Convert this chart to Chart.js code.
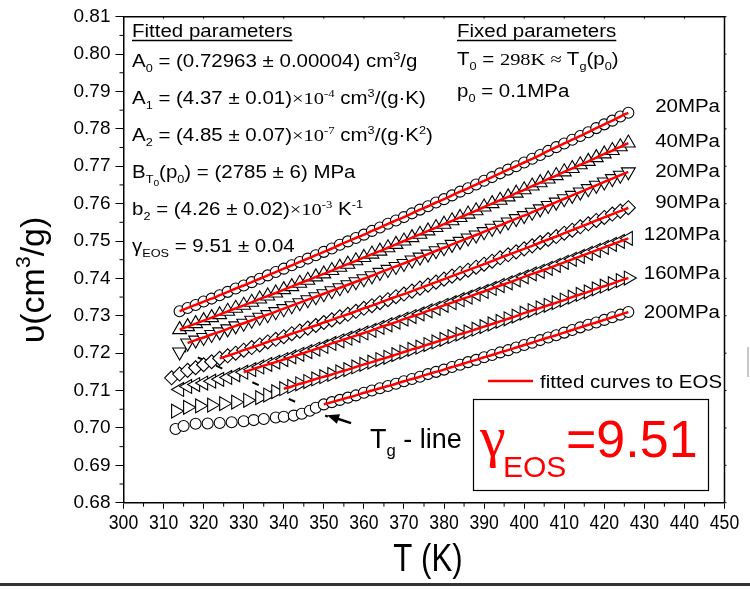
<!DOCTYPE html>
<html>
<head>
<meta charset="utf-8">
<script src="https://cdn.jsdelivr.net/npm/chart.js@4.4.1/dist/chart.umd.min.js"></script>
<style>
  html, body { margin: 0; padding: 0; background: #fff; }
  canvas { display: block; }
</style>
</head>
<body>
<canvas id="eosChart" width="750" height="589"></canvas>
<script>
// temperatures (K) for each isobar
const tempsFull = [314,316,318,320,322,324,326,328,330,332,334,336,338,340,342,344,346,348,350,352,354,356,358,360,362,364,366,368,370,372,374,376,378,380,382,384,386,388,390,392,394,396,398,400,402,404,406,408,410,412,414,416,418,420,422,424,426];
const temps90 = [312,314,316,318,320,322,324,326,328,330,332,334,336,338,340,342,344,346,348,350,352,354,356,358,360,362,364,366,368,370,372,374,376,378,380,382,384,386,388,390,392,394,396,398,400,402,404,406,408,410,412,414,416,418,420,422,424,426];
const temps160 = [313,316,319,322,325,328,331,334,336,338,340,342,344,346,348,350,352,354,356,358,360,362,364,366,368,370,372,374,376,378,380,382,384,386,388,390,392,394,396,398,400,402,404,406,408,410,412,414,416,418,420,422,424,426];
const temps200 = [313,315,318,321,324,327,330,332.5,335,338,340,342.5,344.5,346.5,348,350,352,354,356,358,360,362,364,366,368,370,372,374,376,378,380,382,384,386,388,390,392,394,396,398,400,402,404,406,408,410,412,414,416,418,420,422,424,426];

// specific volume (cm3/g)
const vol20a = [0.7312,0.7321,0.7329,0.7338,0.7346,0.7355,0.7364,0.7373,0.7381,0.7390,0.7399,0.7408,0.7417,0.7426,0.7435,0.7444,0.7453,0.7462,0.7471,0.7480,0.7490,0.7499,0.7508,0.7517,0.7527,0.7536,0.7546,0.7555,0.7564,0.7574,0.7584,0.7593,0.7603,0.7612,0.7622,0.7632,0.7641,0.7651,0.7661,0.7671,0.7681,0.7691,0.7700,0.7710,0.7720,0.7730,0.7741,0.7751,0.7761,0.7771,0.7781,0.7791,0.7802,0.7812,0.7822,0.7833,0.7843];
const vol40 = [0.7263,0.7271,0.7279,0.7287,0.7295,0.7303,0.7312,0.7320,0.7328,0.7336,0.7345,0.7353,0.7361,0.7370,0.7378,0.7387,0.7395,0.7404,0.7412,0.7421,0.7430,0.7438,0.7447,0.7456,0.7465,0.7473,0.7482,0.7491,0.7500,0.7509,0.7518,0.7527,0.7536,0.7545,0.7554,0.7563,0.7572,0.7581,0.7591,0.7600,0.7609,0.7618,0.7628,0.7637,0.7647,0.7656,0.7666,0.7675,0.7685,0.7694,0.7704,0.7713,0.7723,0.7733,0.7742,0.7752,0.7762];
const vol20b = [0.7203,0.7227,0.7235,0.7242,0.7250,0.7257,0.7265,0.7273,0.7280,0.7288,0.7296,0.7303,0.7311,0.7319,0.7327,0.7335,0.7343,0.7351,0.7359,0.7367,0.7375,0.7383,0.7391,0.7399,0.7407,0.7416,0.7424,0.7432,0.7440,0.7449,0.7457,0.7465,0.7474,0.7482,0.7491,0.7499,0.7508,0.7516,0.7525,0.7534,0.7542,0.7551,0.7560,0.7568,0.7577,0.7586,0.7595,0.7604,0.7613,0.7622,0.7631,0.7640,0.7649,0.7658,0.7667,0.7676,0.7685];
const vol90 = [0.7134,0.7144,0.7154,0.7161,0.7169,0.7177,0.7186,0.7193,0.7200,0.7208,0.7215,0.7222,0.7230,0.7237,0.7244,0.7252,0.7259,0.7267,0.7274,0.7282,0.7289,0.7297,0.7304,0.7312,0.7320,0.7327,0.7335,0.7343,0.7351,0.7358,0.7366,0.7374,0.7382,0.7390,0.7398,0.7406,0.7414,0.7422,0.7430,0.7438,0.7446,0.7455,0.7463,0.7471,0.7479,0.7487,0.7496,0.7504,0.7512,0.7521,0.7529,0.7538,0.7546,0.7555,0.7563,0.7572,0.7580,0.7589];
const vol120 = [0.7103,0.7111,0.7116,0.7120,0.7125,0.7130,0.7135,0.7142,0.7149,0.7156,0.7163,0.7170,0.7176,0.7183,0.7190,0.7197,0.7204,0.7211,0.7218,0.7226,0.7233,0.7240,0.7247,0.7254,0.7261,0.7269,0.7276,0.7283,0.7291,0.7298,0.7305,0.7313,0.7320,0.7328,0.7335,0.7343,0.7350,0.7358,0.7365,0.7373,0.7381,0.7388,0.7396,0.7404,0.7412,0.7419,0.7427,0.7435,0.7443,0.7451,0.7459,0.7467,0.7475,0.7483,0.7491,0.7499,0.7507];
const vol160 = [0.7045,0.7055,0.7059,0.7061,0.7065,0.7069,0.7074,0.7081,0.7088,0.7097,0.7105,0.7111,0.7118,0.7124,0.7131,0.7137,0.7143,0.7150,0.7156,0.7163,0.7170,0.7176,0.7183,0.7189,0.7196,0.7203,0.7210,0.7216,0.7223,0.7230,0.7237,0.7244,0.7251,0.7257,0.7264,0.7271,0.7278,0.7285,0.7292,0.7299,0.7307,0.7314,0.7321,0.7328,0.7335,0.7342,0.7350,0.7357,0.7364,0.7372,0.7379,0.7386,0.7394,0.7401];
const vol200 = [0.6997,0.7005,0.7011,0.7012,0.7013,0.7015,0.7018,0.7021,0.7024,0.7028,0.7030,0.7033,0.7038,0.7046,0.7054,0.7063,0.7069,0.7075,0.7081,0.7087,0.7094,0.7100,0.7106,0.7112,0.7118,0.7125,0.7131,0.7137,0.7144,0.7150,0.7156,0.7163,0.7169,0.7176,0.7182,0.7189,0.7195,0.7202,0.7208,0.7215,0.7222,0.7228,0.7235,0.7242,0.7248,0.7255,0.7262,0.7269,0.7276,0.7282,0.7289,0.7296,0.7303,0.7310];

// where the red EOS fit begins on each isobar (K)
const fitStart = [314, 314, 316, 324, 330, 340, 350];
const seriesLabels = ['20MPa', '40MPa', '20MPa', '90MPa', '120MPa', '160MPa', '200MPa'];

// Tg line and arrow (T, v)
const tgLineT = [314, 351];
const tgLineV = [0.7211, 0.7030];
const arrowT = [356.8, 350.8];
const arrowV = [0.7013, 0.7034];

const SANS = '"Liberation Sans", Arial, Helvetica, sans-serif';
const SERIF = '"Liberation Serif", "Times New Roman", serif';

function pts(t, v) {
    return t.map((x, i) => ({ x: x, y: v[i] }));
}

const isobars = [
    { t: tempsFull, v: vol20a, style: 'circle', rot: 0, r: 5.5 },
    { t: tempsFull, v: vol40, style: 'triangle', rot: 0, r: 8 },
    { t: tempsFull, v: vol20b, style: 'triangle', rot: 180, r: 8 },
    { t: temps90, v: vol90, style: 'rectRot', rot: 0, r: 7 },
    { t: tempsFull, v: vol120, style: 'triangle', rot: 270, r: 8 },
    { t: temps160, v: vol160, style: 'triangle', rot: 90, r: 8 },
    { t: temps200, v: vol200, style: 'circle', rot: 0, r: 5.5 }
];

let datasets = [];
isobars.forEach((s, i) => {
    datasets.push({
        label: seriesLabels[i],
        data: pts(s.t, s.v),
        showLine: false,
        pointStyle: s.style,
        pointRotation: s.rot,
        pointRadius: s.r,
        pointBackgroundColor: '#fff',
        pointBorderColor: '#000',
        pointBorderWidth: 1.1,
        order: 2
    });
});
isobars.forEach((s, i) => {
    datasets.push({
        label: 'fit ' + seriesLabels[i],
        data: pts(s.t, s.v).filter(p => p.x >= fitStart[i]),
        showLine: true,
        borderColor: '#ff0000',
        borderWidth: 2.5,
        pointRadius: 0,
        tension: 0.3,
        order: 1
    });
});
datasets.push({
    label: 'Tg line',
    data: pts(tgLineT, tgLineV),
    showLine: true,
    borderColor: '#000',
    borderWidth: 2,
    borderDash: [7, 13],
    pointRadius: 0,
    order: 3
});

// rich text: parts are [text, kind]
function runFont(p, size) {
    const kind = p[1] || '';
    let fs = size, dy = 0, fam = SANS;
    if (kind.includes('sub')) { fs = size * 0.62; dy = size * 0.28; }
    if (kind.includes('sup')) { fs = size * 0.62; dy = -size * 0.42; }
    if (kind.includes('low')) { fs = size * 0.5; dy = size * 0.45; }
    if (kind.includes('serif')) fam = SERIF;
    return { font: fs + 'px ' + fam, dy: dy };
}
function drawRuns(ctx, parts, x, y, size, sx, align) {
    sx = sx || 1;
    ctx.save();
    ctx.textBaseline = 'alphabetic';
    ctx.textAlign = 'left';
    let w = 0;
    for (const p of parts) { ctx.font = runFont(p, size).font; w += ctx.measureText(p[0]).width; }
    let x0 = x;
    if (align === 'right') x0 = x - w * sx;
    if (align === 'center') x0 = x - w * sx / 2;
    ctx.translate(x0, y);
    ctx.scale(sx, 1);
    let cx = 0;
    for (const p of parts) {
        const f = runFont(p, size);
        ctx.font = f.font;
        ctx.fillText(p[0], cx, f.dy);
        cx += ctx.measureText(p[0]).width;
    }
    ctx.restore();
    return { x0: x0, w: w * sx };
}

const TXT = 17.5, SX = 1.17;

const fittedLines = [
    [['A'], ['0', 'sub'], [' = (0.72963 ± 0.00004) cm'], ['3', 'sup'], ['/g']],
    [['A'], ['1', 'sub'], [' = (4.37 ± 0.01)'], ['×10', 'serif'], ['-4', 'sup serif'], [' cm'], ['3', 'sup'], ['/(g·K)']],
    [['A'], ['2', 'sub'], [' = (4.85 ± 0.07)'], ['×10', 'serif'], ['-7', 'sup serif'], [' cm'], ['3', 'sup'], ['/(g·K'], ['2', 'sup'], [')']],
    [['B'], ['T', 'sub'], ['0', 'low'], ['(p'], ['0', 'sub'], [') = (2785 ± 6) MPa']],
    [['b'], ['2', 'sub'], [' = (4.26 ± 0.02)'], ['×10', 'serif'], ['-3', 'sup serif'], [' K'], ['-1', 'sup']],
    [['γ'], ['EOS', 'sub'], [' = 9.51 ± 0.04']]
];
const fixedLines = [
    [['T'], ['0', 'sub'], [' = '], ['298K ≈ ', 'serif'], ['T'], ['g', 'sub'], ['(p'], ['0', 'sub'], [')']],
    [['p'], ['0', 'sub'], [' = 0.1MPa']]
];
const labelY = [111.5, 147, 177, 208, 240, 279, 318];

const decor = {
    id: 'decor',
    afterDraw(chart) {
        const ctx = chart.ctx;
        const a = chart.chartArea;
        const xs = chart.scales.x, ys = chart.scales.y;
        ctx.save();
        ctx.fillStyle = '#000';
        ctx.strokeStyle = '#000';

        // frame top/right
        ctx.lineWidth = 1.5;
        ctx.beginPath();
        ctx.moveTo(a.left, a.top); ctx.lineTo(a.right, a.top); ctx.lineTo(a.right, a.bottom);
        ctx.stroke();

        // minor ticks halfway between major ticks, small inner ticks on top/right
        ctx.lineWidth = 1;
        ctx.beginPath();
        for (let i = 0; i < xs.ticks.length - 1; i++) {
            const px = xs.getPixelForValue((xs.ticks[i].value + xs.ticks[i + 1].value) / 2);
            ctx.moveTo(px, a.bottom); ctx.lineTo(px, a.bottom + 4);
        }
        for (let i = 0; i < ys.ticks.length - 1; i++) {
            const py = ys.getPixelForValue((ys.ticks[i].value + ys.ticks[i + 1].value) / 2);
            ctx.moveTo(a.left - 4, py); ctx.lineTo(a.left, py);
        }
        for (const tk of xs.ticks) {
            const px = xs.getPixelForValue(tk.value);
            ctx.moveTo(px, a.top); ctx.lineTo(px, a.top + 2);
        }
        for (const tk of ys.ticks) {
            const py = ys.getPixelForValue(tk.value);
            ctx.moveTo(a.right, py); ctx.lineTo(a.right + 2, py);
        }
        ctx.stroke();

        // x tick labels (condensed)
        for (const tk of xs.ticks) {
            drawRuns(ctx, [[String(tk.value)]], xs.getPixelForValue(tk.value), 529, 20, 0.88, 'center');
        }

        // axis titles
        drawRuns(ctx, [['T (K)']], 428, 571, 39, 0.8, 'center');
        ctx.save();
        ctx.translate(33, 280);
        ctx.rotate(-Math.PI / 2);
        drawRuns(ctx, [['υ(cm'], ['3', 'sup'], ['/g)']], 0, 11, 34, 1, 'center');
        ctx.restore();

        // fitted parameters block
        let r = drawRuns(ctx, [['Fitted parameters']], 132, 37, TXT, SX);
        ctx.lineWidth = 1.3;
        ctx.beginPath(); ctx.moveTo(r.x0, 40.5); ctx.lineTo(r.x0 + r.w, 40.5); ctx.stroke();
        fittedLines.forEach((ln, i) => drawRuns(ctx, ln, 132, 67 + i * 37, TXT, SX));

        // fixed parameters block
        r = drawRuns(ctx, [['Fixed parameters']], 457, 37, TXT, SX);
        ctx.beginPath(); ctx.moveTo(r.x0, 40.5); ctx.lineTo(r.x0 + r.w, 40.5); ctx.stroke();
        fixedLines.forEach((ln, i) => drawRuns(ctx, ln, 457, 65 + i * 32, TXT, SX));

        // isobar labels
        seriesLabels.forEach((lb, i) => drawRuns(ctx, [[lb]], 720, labelY[i], TXT, SX, 'right'));

        // legend
        ctx.strokeStyle = '#ff0000';
        ctx.lineWidth = 2.5;
        ctx.beginPath(); ctx.moveTo(488, 381); ctx.lineTo(533, 381); ctx.stroke();
        drawRuns(ctx, [['fitted curves to EOS']], 540, 388, TXT, SX);

        // Tg arrow
        const x1 = xs.getPixelForValue(arrowT[0]), y1 = ys.getPixelForValue(arrowV[0]);
        const x2 = xs.getPixelForValue(arrowT[1]), y2 = ys.getPixelForValue(arrowV[1]);
        const ang = Math.atan2(y2 - y1, x2 - x1);
        ctx.strokeStyle = '#000';
        ctx.lineWidth = 2.5;
        ctx.beginPath(); ctx.moveTo(x1, y1);
        ctx.lineTo(x2 - 8 * Math.cos(ang), y2 - 8 * Math.sin(ang)); ctx.stroke();
        ctx.beginPath();
        ctx.moveTo(x2, y2);
        ctx.lineTo(x2 - 12 * Math.cos(ang) + 5 * Math.sin(ang), y2 - 12 * Math.sin(ang) - 5 * Math.cos(ang));
        ctx.lineTo(x2 - 12 * Math.cos(ang) - 5 * Math.sin(ang), y2 - 12 * Math.sin(ang) + 5 * Math.cos(ang));
        ctx.closePath(); ctx.fill();
        drawRuns(ctx, [['T'], ['g', 'sub'], [' - line']], 370, 448, 27, 1);

        // gamma box
        ctx.lineWidth = 1.2;
        ctx.strokeRect(473.5, 399.5, 235, 91);
        ctx.fillStyle = '#ff0000';
        ctx.textBaseline = 'alphabetic';
        ctx.textAlign = 'left';
        ctx.font = '58px ' + SERIF;
        ctx.fillText('γ', 480, 456);
        ctx.font = '30px ' + SANS;
        ctx.fillText('EOS', 503, 477);
        ctx.font = '52px ' + SANS;
        ctx.fillText('=9.51', 566, 457);

        // page edge marks
        ctx.fillStyle = '#333';
        ctx.fillRect(0, 583, 750, 3);
        ctx.fillStyle = '#c8c8c8';
        ctx.fillRect(747, 347, 2, 30);
        ctx.restore();
    }
};

const tickFontY = { family: SANS, size: 19 };

new Chart(document.getElementById('eosChart'), {
    type: 'scatter',
    data: { datasets: datasets },
    options: {
        responsive: false,
        animation: false,
        devicePixelRatio: 1,
        layout: { padding: { top: 16.7, right: 25.5, left: 0, bottom: 0 } },
        plugins: { legend: { display: false }, tooltip: { enabled: false } },
        scales: {
            x: {
                type: 'linear',
                min: 300, max: 450,
                afterFit: s => { s.height = 589 - 502.7; },
                ticks: { stepSize: 10, autoSkip: false, maxRotation: 0, display: false },
                grid: { drawOnChartArea: false, color: '#000', tickLength: 6, tickWidth: 1 },
                border: { color: '#000', width: 1.5 }
            },
            y: {
                min: 0.68, max: 0.81,
                afterFit: s => { s.width = 123.5; },
                ticks: {
                    stepSize: 0.01, autoSkip: false, color: '#000', font: tickFontY, padding: 5,
                    callback: v => v.toFixed(2)
                },
                grid: { drawOnChartArea: false, color: '#000', tickLength: 8, tickWidth: 1 },
                border: { color: '#000', width: 1.5 }
            }
        }
    },
    plugins: [decor]
});
</script>
</body>
</html>
